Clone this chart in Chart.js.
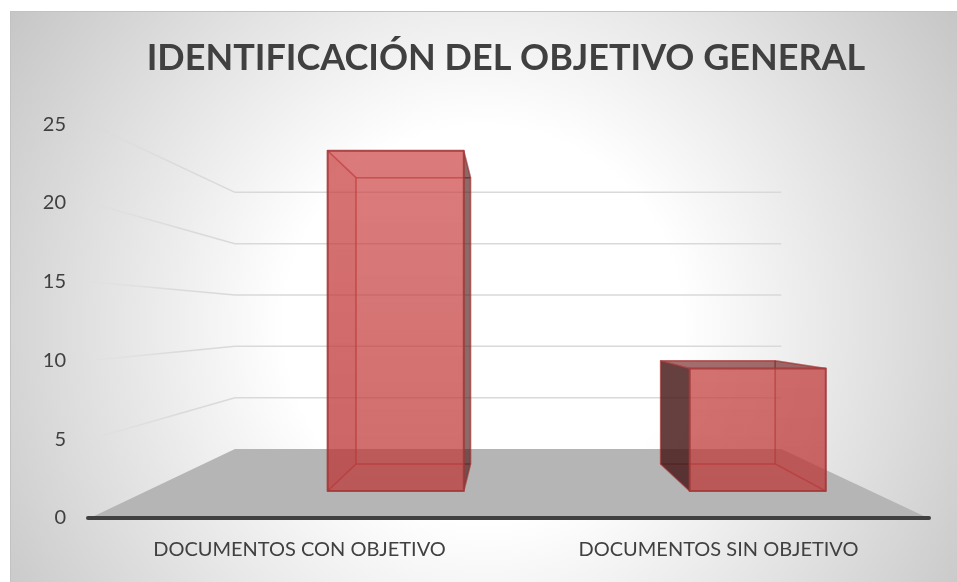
<!DOCTYPE html>
<html>
<head>
<meta charset="utf-8">
<script src="https://cdn.jsdelivr.net/npm/chart.js@4"></script>
<style>
    html, body { margin: 0; background: #fff; overflow: hidden; }
    #panel {
        position: absolute; left: 10px; top: 11px; width: 947px; height: 571px;
        background: radial-gradient(circle farthest-corner at 50% 55%, #fff 0%, #fff 35%, #c6c6c6 100%);
        box-shadow: inset 1px 1px 0 #c2c2c2;
    }
    canvas { position: absolute; left: 0; top: 0; }
</style>
</head>
<body>
<div id="panel"><canvas id="chart" width="947" height="571"></canvas></div>
<script>
const chartTitle = 'IDENTIFICACIÓN DEL OBJETIVO GENERAL';
const categories = ['DOCUMENTOS CON OBJETIVO', 'DOCUMENTOS SIN OBJETIVO'];
const seriesValues = [25, 9];
const tickValues = [0, 5, 10, 15, 20, 25];

// perspective: everything shrinks towards a vanishing point in the plot
const WALL_DEPTH = 0.652;
const BAR_FRONT = 0.864;
const BAR_BACK = 0.727;

const depth3d = {
    id: 'depth3d',
    afterLayout(chart) {
        // title sits a little left of the plot centre
        chart.titleBlock.left -= 6;
    },
    beforeDatasetsDraw(chart) {
        const { ctx, chartArea: area, scales: { x, y } } = chart;
        const vx = area.left + area.width * 0.497;
        const vy = area.top + area.height * 0.497;
        const pt = (px, py, s) => [vx + (px - vx) * s, vy + (py - vy) * s];

        const poly = (pts, fill, stroke, lw) => {
            ctx.beginPath();
            pts.forEach((p, i) => i ? ctx.lineTo(p[0], p[1]) : ctx.moveTo(p[0], p[1]));
            ctx.closePath();
            if (fill) { ctx.fillStyle = fill; ctx.fill(); }
            if (stroke) { ctx.strokeStyle = stroke; ctx.lineWidth = lw; ctx.lineJoin = 'round'; ctx.stroke(); }
        };

        ctx.save();

        // floor
        const y0 = y.getPixelForValue(0);
        poly([pt(area.left, y0, 1), pt(area.right, y0, 1), pt(area.right, y0, WALL_DEPTH), pt(area.left, y0, WALL_DEPTH)], '#b5b5b5');

        // gridlines on the side wall (fading out) and the back wall
        y.ticks.forEach(t => {
            if (t.value === 0) return;
            const py = y.getPixelForValue(t.value);
            const a = pt(area.left, py, 1), b = pt(area.left, py, WALL_DEPTH), c = pt(area.right, py, WALL_DEPTH);
            const fade = ctx.createLinearGradient(a[0], a[1], b[0], b[1]);
            fade.addColorStop(0, 'rgba(217,217,217,0)');
            fade.addColorStop(0.6, '#dadada');
            fade.addColorStop(1, '#d9d9d9');
            ctx.lineWidth = 1.5;
            ctx.strokeStyle = fade;
            ctx.beginPath(); ctx.moveTo(a[0], a[1]); ctx.lineTo(b[0], b[1]); ctx.stroke();
            ctx.strokeStyle = '#d9d9d9';
            ctx.beginPath(); ctx.moveTo(b[0], b[1]); ctx.lineTo(c[0], c[1]); ctx.stroke();
        });

        // axis line, a bit longer than the plot
        ctx.strokeStyle = '#404040';
        ctx.lineWidth = 4;
        ctx.lineCap = 'round';
        ctx.beginPath(); ctx.moveTo(area.left - 2, y0); ctx.lineTo(area.right + 1, y0); ctx.stroke();
        ctx.lineCap = 'butt';

        // bars as see-through boxes, built from the bar elements chart.js laid out.
        // In the original the box starts at the category centre, not around it.
        const frontFill = ctx.createLinearGradient(0, y0, 0, area.top);
        frontFill.addColorStop(0, 'rgba(188,55,55,0.72)');
        frontFill.addColorStop(1, 'rgba(206,66,66,0.66)');

        chart.getDatasetMeta(0).data.forEach((bar, i) => {
            const l = bar.x, r = bar.x + bar.width;
            const top = y.getPixelForValue(seriesValues[i]);
            const face = (ax, ay, bx, by, s1, s2) => [pt(ax, ay, s1), pt(bx, by, s1), pt(bx, by, s2), pt(ax, ay, s2)];
            const leftF = face(l, top, l, y0, BAR_FRONT, BAR_BACK);
            const rightF = face(r, top, r, y0, BAR_FRONT, BAR_BACK);
            const topF = face(l, top, r, top, BAR_FRONT, BAR_BACK);
            const bottomF = face(l, y0, r, y0, BAR_FRONT, BAR_BACK);
            const backF = [pt(l, top, BAR_BACK), pt(r, top, BAR_BACK), pt(r, y0, BAR_BACK), pt(l, y0, BAR_BACK)];
            const frontF = [pt(l, top, BAR_FRONT), pt(r, top, BAR_FRONT), pt(r, y0, BAR_FRONT), pt(l, y0, BAR_FRONT)];

            const edge = 'rgba(170,55,55,0.45)';
            poly(backF, 'rgba(200,70,70,0.08)', edge, 1.5);
            poly(bottomF, 'rgba(150,50,50,0.08)', edge, 1.5);
            if (l <= vx) poly(leftF, 'rgba(170,50,50,0.20)', edge, 1.5);
            if (r >= vx) poly(rightF, 'rgba(170,50,50,0.14)', edge, 1.5);
            if (top <= vy) poly(topF, 'rgba(190,60,60,0.10)', edge, 1.5);
            if (l > vx) poly(leftF, 'rgba(70,25,25,0.82)', edge, 1.5);
            if (r < vx) poly(rightF, 'rgba(70,25,25,0.62)', edge, 1.5);
            if (top > vy) poly(topF, 'rgba(110,30,30,0.62)', edge, 1.5);

            poly(frontF, frontFill, 'rgba(160,55,55,0.8)', 2);
        });

        ctx.restore();
    }
};

new Chart(document.getElementById('chart'), {
    type: 'bar',
    plugins: [depth3d],
    data: {
        labels: categories,
        datasets: [{
            label: 'Documentos',
            data: seriesValues,
            backgroundColor: 'transparent',
            borderWidth: 0,
            categoryPercentage: 1,
            barPercentage: 0.376
        }]
    },
    options: {
        responsive: false,
        animation: false,
        layout: { padding: { left: 30, right: 29, top: 0, bottom: 0 } },
        plugins: {
            legend: { display: false },
            title: {
                display: true,
                fullSize: false,
                text: chartTitle,
                color: '#404040',
                font: { family: 'Lato', size: 36, weight: 'bold' },
                padding: { top: 26, bottom: 44 }
            }
        },
        scales: {
            x: {
                grid: { display: false },
                border: { display: false },
                afterFit: s => { s.height = 64; },
                ticks: {
                    color: '#404040',
                    font: { family: 'Lato', size: 20 },
                    padding: 12,
                    maxRotation: 0,
                    autoSkip: false
                }
            },
            y: {
                min: tickValues[0],
                max: tickValues[tickValues.length - 1],
                grid: { display: false },
                border: { display: false },
                afterFit: s => { s.width = 50; },
                ticks: {
                    stepSize: tickValues[1] - tickValues[0],
                    color: '#404040',
                    font: { family: 'Lato', size: 20 },
                    padding: 16
                }
            }
        }
    }
});
</script>
</body>
</html>
